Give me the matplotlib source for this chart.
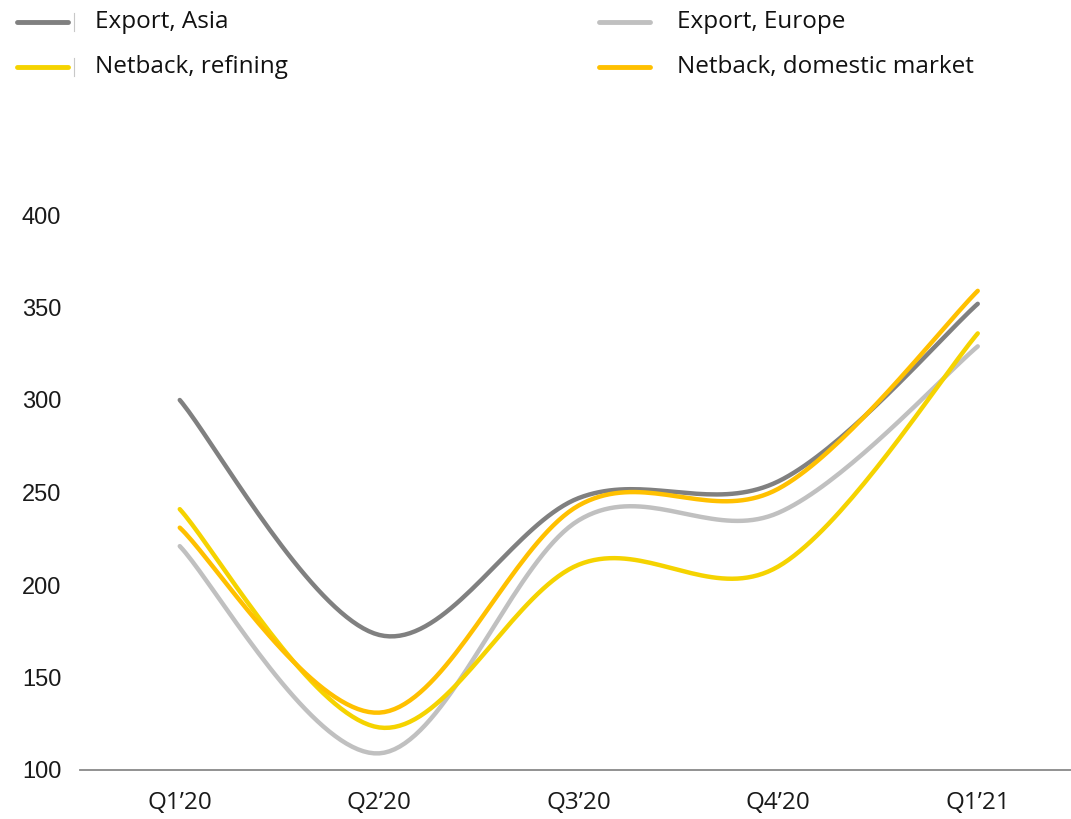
"""
Netback and export prices by quarter, smoothed lines.
Output: out.png
"""
import matplotlib
matplotlib.use("Agg")
import matplotlib.pyplot as plt
from matplotlib.lines import Line2D
import numpy as np

plt.rcParams.update({
    "font.family": ["Open Sans", "DejaVu Sans"],
    "axes.spines.top": False,
    "axes.spines.right": False,
    "axes.spines.left": False,
})

quarters = ["Q1\u201920", "Q2\u201920", "Q3\u201920", "Q4\u201920", "Q1\u201921"]
export_asia = [300, 173, 247, 256, 352]
export_europe = [221, 109, 235, 239, 329]
netback_refining = [241, 123, 211, 210, 336]
netback_domestic = [231, 131, 243, 252, 359]
y_ticks = [100, 150, 200, 250, 300, 350, 400]

COL_ASIA = "#808080"
COL_EUROPE = "#C0C0C0"
COL_REFINING = "#F5D300"
COL_DOMESTIC = "#FFC000"

W, H = 1071, 819


def smooth(ys, n=40):
    """Catmull-Rom style Bezier through the points (like spreadsheet smoothing)."""
    x = np.arange(len(ys), dtype=float)
    y = np.asarray(ys, dtype=float)
    px, py = [], []
    for i in range(len(y) - 1):
        i0, i3 = max(i - 1, 0), min(i + 2, len(y) - 1)
        c1x = x[i] + (x[i + 1] - x[i0]) / 6
        c1y = y[i] + (y[i + 1] - y[i0]) / 6
        c2x = x[i + 1] - (x[i3] - x[i]) / 6
        c2y = y[i + 1] - (y[i3] - y[i]) / 6
        t = np.linspace(0, 1, n)
        bx = (1 - t) ** 3 * x[i] + 3 * (1 - t) ** 2 * t * c1x + 3 * (1 - t) * t ** 2 * c2x + t ** 3 * x[i + 1]
        by = (1 - t) ** 3 * y[i] + 3 * (1 - t) ** 2 * t * c1y + 3 * (1 - t) * t ** 2 * c2y + t ** 3 * y[i + 1]
        px.extend(bx)
        py.extend(by)
    return np.array(px), np.array(py)


fig = plt.figure(figsize=(W / 100, H / 100), dpi=100)
# category slots are ~199.5 px wide; axes runs a little past the right edge
ax = fig.add_axes([80 / W, (H - 770) / H, 997.5 / W, (770 - 215) / H])

series = [
    ("Export, Asia", export_asia, COL_ASIA),
    ("Export, Europe", export_europe, COL_EUROPE),
    ("Netback, refining", netback_refining, COL_REFINING),
    ("Netback, domestic market", netback_domestic, COL_DOMESTIC),
]
for name, vals, col in [series[1], series[0], series[2], series[3]]:
    sx, sy = smooth(vals)
    ax.plot(sx, sy, color=col, lw=3.2, solid_capstyle="round", clip_on=False)

ax.set_xlim(-0.5, len(quarters) - 0.5)
ax.set_ylim(100, 400)
ax.set_xticks(range(len(quarters)))
ax.set_xticklabels(quarters, fontsize=17.5, color="#1a1a1a")
ax.set_yticks(y_ticks)
ax.set_yticklabels([str(v) for v in y_ticks], fontsize=17,
                   family="Liberation Sans", color="#1a1a1a", ha="left")
ax.tick_params(axis="y", length=0, pad=41.8)
ax.tick_params(axis="x", length=0, pad=15)
ax.spines["bottom"].set_color("#898989")
ax.spines["bottom"].set_linewidth(1.3)

# legend drawn at fixed spots, two columns
legend_pos = [(15, 22), (597, 22), (15, 67), (597, 67)]
for i, ((name, vals, col), (lx, ly)) in enumerate(zip(series, legend_pos)):
    y_f = 1 - ly / H
    fig.add_artist(Line2D([(lx + 2) / W, (lx + 53) / W], [y_f, y_f],
                          color=col, lw=3.5, solid_capstyle="round"))
    if lx < 100:
        fig.add_artist(Line2D([74 / W, 74 / W], [y_f - 9 / H, y_f + 9 / H],
                              color="#c8c8c8", lw=0.8))
    fig.text((lx + 80) / W, y_f, name, fontsize=17.5, va="center",
             ha="left", color="#111111")

fig.savefig("out.png", dpi=100)
